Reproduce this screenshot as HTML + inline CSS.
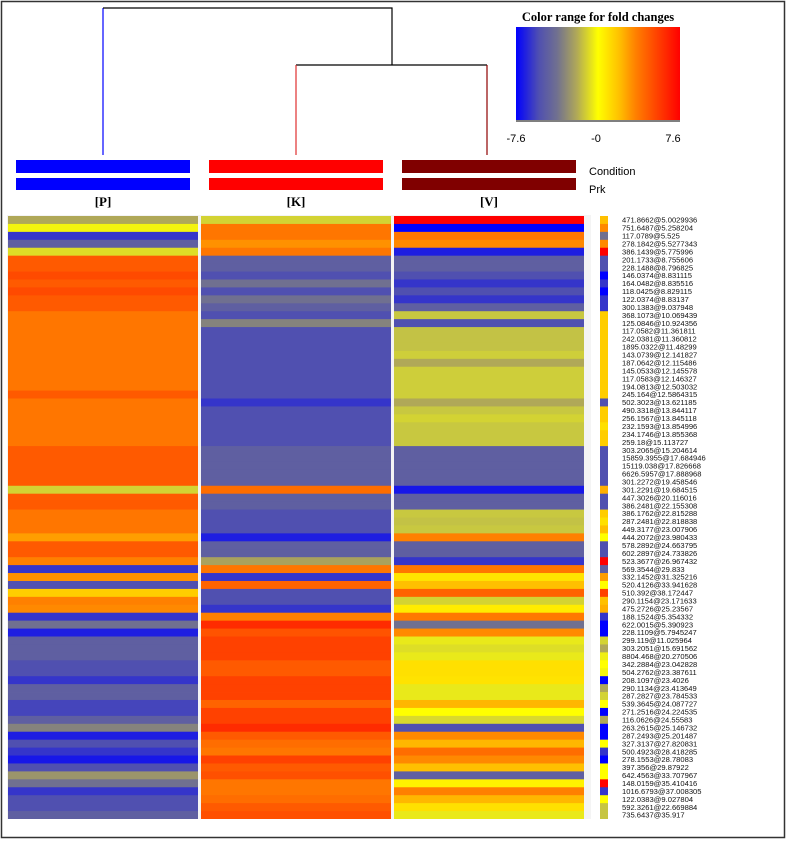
<!DOCTYPE html>
<html><head><meta charset="utf-8"><style>
body{margin:0;background:#fff;}
svg text{font-family:"Liberation Sans",sans-serif;}
</style></head><body>
<svg id="chart" width="787" height="841" viewBox="0 0 787 841" xmlns="http://www.w3.org/2000/svg">
<defs>
<linearGradient id="lg" x1="0" x2="1" y1="0" y2="0">
<stop offset="0" stop-color="#0000ff"/><stop offset="0.14" stop-color="#5050b0"/><stop offset="0.25" stop-color="#707090"/><stop offset="0.37" stop-color="#b0a858"/><stop offset="0.5" stop-color="#ffff00"/><stop offset="0.63" stop-color="#ffc000"/><stop offset="0.73" stop-color="#ff8000"/><stop offset="0.83" stop-color="#ff5000"/><stop offset="1" stop-color="#ff0000"/>
</linearGradient>
<clipPath id="hc"><rect x="0" y="215" width="787" height="604"/></clipPath>
</defs>
<rect x="1.5" y="1.5" width="783" height="836" fill="none" stroke="#333" stroke-width="1.5"/>
<g fill="none" stroke-width="1.2">
<path d="M103 155 V8" stroke="#0000ff"/>
<path d="M103 8 H392 V65" stroke="#000"/>
<path d="M296 65 H487" stroke="#000"/>
<path d="M296 65 V155" stroke="#e03030"/>
<path d="M487 65 V155" stroke="#900000"/>
</g>
<g>
<text x="598" y="21" text-anchor="middle" font-family="Liberation Serif" font-weight="bold" font-size="12.5" style="font-family:'Liberation Serif',serif">Color range for fold changes</text>
<rect x="516" y="27" width="164" height="93" fill="url(#lg)"/>
<line x1="516" y1="121" x2="680" y2="121" stroke="#555" stroke-width="1.5"/>
<text x="516" y="142" font-size="11" text-anchor="middle">-7.6</text>
<text x="596" y="142" font-size="11" text-anchor="middle">-0</text>
<text x="673" y="142" font-size="11" text-anchor="middle">7.6</text>
</g>
<g id="bars"></g>
<g id="heat" clip-path="url(#hc)"></g>
</svg>
<script>
const groups = ["[P]","[K]","[V]"];
const groupColors = ["#0000ff","#ff0000","#800000"];
const rowLabels = ["471.8662@5.0029936","751.6487@5.258204","117.0789@5.525","278.1842@5.5277343","386.1439@5.775996","201.1733@8.755606","228.1488@8.796825","146.0374@8.831115","164.0482@8.835516","118.0425@8.829115","122.0374@8.83137","300.1383@9.037948","368.1073@10.069439","125.0846@10.924356","117.0582@11.361811","242.0381@11.360812","1895.0322@11.48299","143.0739@12.141827","187.0642@12.115486","145.0533@12.145578","117.0583@12.146327","194.0813@12.503032","245.164@12.5864315","502.3023@13.621185","490.3318@13.844117","256.1567@13.845118","232.1593@13.854996","234.1746@13.855368","259.18@15.113727","303.2065@15.204614","15859.3955@17.684946","15119.038@17.826668","6626.5957@17.888968","301.2272@19.458546","301.2291@19.684515","447.3026@20.116016","386.2481@22.155308","386.1762@22.815288","287.2481@22.818838","449.3177@23.007906","444.2072@23.980433","578.2892@24.663795","602.2897@24.733826","523.3677@26.967432","569.3544@29.833","332.1452@31.325216","520.4126@33.941628","510.392@38.172447","290.1154@23.171633","475.2726@25.23567","188.1524@5.354332","622.0015@5.390923","228.1109@5.7945247","299.119@11.025964","303.2051@15.691562","8804.468@20.270506","342.2884@23.042828","504.2762@23.387611","208.1097@23.4026","290.1134@23.413649","287.2827@23.784533","539.3645@24.087727","271.2516@24.224535","116.0626@24.55583","263.2615@25.146732","287.2493@25.201487","327.3137@27.820831","500.4923@28.418285","278.1553@28.78083","397.356@29.87922","642.4563@33.707967","148.0159@35.410416","1016.6793@37.008305","122.0383@9.027804","592.3261@22.669884","735.6437@35.917"];
const valuesP = [-2,-0.2,-6.2,-4.7,-0.6,4.7,4.7,5.2,4.7,5.2,4.7,4.7,3.8,3.8,3.8,3.8,3.8,3.8,3.8,3.8,3.8,3.8,4.7,3.8,3.8,3.8,3.8,3.8,3.8,4.7,4.7,4.7,4.7,4.7,-0.8,4.7,4.7,3.8,3.8,3.8,2.8,4.7,4.7,3.5,-6.2,3.1,-5.5,1.6,3.5,3.3,-6.2,-3.8,-6.8,-4.7,-4.7,-4.7,-5.5,-5.5,-6.2,-4.7,-4.7,-5.8,-5.8,-4.7,-3.2,-6.8,-5.5,-6.2,-7,-5.5,-2.6,-3.8,-6.2,-5.5,-5.5,-4.7];
const valuesK = [-0.8,3.8,3.8,3.1,3.8,-4.7,-4.7,-5.5,-3.8,-5.5,-3.8,-4.7,-5.5,-3.2,-5.5,-5.5,-5.5,-5.5,-5.5,-5.5,-5.5,-5.5,-5.5,-6.2,-5.5,-5.5,-5.5,-5.5,-5.5,-4.7,-4.7,-4.7,-4.7,-4.7,4.1,-4.7,-4.7,-5.5,-5.5,-5.5,-6.8,-4.7,-4.7,-2.2,3.8,-6.2,4.4,-5.5,-5.5,-6.2,3.5,6.2,4.9,5.5,5.5,5.5,4.7,4.7,5.5,5.5,5.5,4.4,5.5,5.5,6.2,4.7,4.1,3.8,5.5,4.7,5,3.8,3.8,4.1,4.7,5];
const valuesV = [7.6,-7.6,3.8,3.3,-6.8,-4.7,-4.7,-5.5,-6.2,-5.5,-6.2,-4.7,-1,-5.5,-1.2,-1.2,-1.2,-0.9,-2,-0.9,-0.9,-0.9,-0.9,-2,-1,-0.8,-1,-1,-1,-4.7,-4.7,-4.7,-4.7,-4.7,-7,-4.7,-4.7,-1,-1.2,-1,3.5,-4.7,-4.7,-6.2,3.8,0.9,2,4.4,-0.8,0.6,3.7,-3.8,3.3,-0.4,-0.6,-0.4,1,1,0.9,-0.4,-0.4,2.2,0,-0.7,-5.5,3.3,2.2,4.1,3.3,2,-4.7,0.4,3.5,2.2,1,-0.4];
const valuesSide = [2,3.3,-3.8,3.3,7.6,-5.5,-5.5,-7.6,-6.2,-7.6,-6.2,-6.2,1.6,1.6,1.6,1.6,1.6,1.6,1.6,1.6,1.6,1.6,1.6,-5.5,1.6,1.6,1,1.6,1.6,-5.5,-5.5,-5.5,-5.5,-5.5,2.4,-5.5,-5.5,1.6,1,2,0,-5.5,-5.5,7.6,-4.7,2.8,0,5.5,2,2.4,-6.2,-7.6,-7.6,-0.8,-2,-0.3,0,-0.2,-7.6,-2,-0.8,0,-7.6,-2,-7.6,-7.6,0,-6.2,-7.6,0,0,7.6,-6.2,0,-1.1,-1.1];

const NS="http://www.w3.org/2000/svg";
const stops=[[-7.6,[0,0,255]],[-5.5,[80,80,176]],[-3.8,[112,112,144]],[-2,[176,168,88]],[-1,[200,200,64]],[0,[255,255,0]],[2,[255,192,0]],[3.5,[255,128,0]],[5,[255,80,0]],[7.6,[255,0,0]]];
function colorScale(v){
  v=Math.max(-7.6,Math.min(7.6,v));
  for(let i=1;i<stops.length;i++){
    if(v<=stops[i][0]){const a=stops[i-1],b=stops[i];const t=(v-a[0])/(b[0]-a[0]);
      const c=a[1].map((x,k)=>Math.round(x+(b[1][k]-x)*t));return `rgb(${c[0]},${c[1]},${c[2]})`;}
  }
  return "rgb(255,0,0)";
}
const top0=216, rowH=603/rowLabels.length;
function yPos(i){return top0+i*rowH;}
const colX=[8,201,394], colW=[190,190,190];
const cols=[valuesP,valuesK,valuesV];
const bars=document.getElementById('bars'), heat=document.getElementById('heat');
function mk(tag,attrs,parent){const e=document.createElementNS(NS,tag);for(const k in attrs)e.setAttribute(k,attrs[k]);parent.appendChild(e);return e;}
groups.forEach((g,gi)=>{
  const bx=colX[gi]+8;
  const b1=mk('rect',{x:bx,y:160,width:174,height:13,fill:groupColors[gi]},bars);
  
  
  const b2=mk('rect',{x:bx,y:178,width:174,height:12,fill:groupColors[gi]},bars);
  
  
  const t=mk('text',{x:bx+87,y:206,'text-anchor':'middle','font-size':13,'font-weight':'bold',style:"font-family:'Liberation Serif',serif"},bars);
  t.textContent=g;
  
  
});
const c1=mk('text',{x:589,y:175,'font-size':11},bars);c1.textContent='Condition';


const c2=mk('text',{x:589,y:193,'font-size':11},bars);c2.textContent='Prk';


mk('rect',{x:7,y:214,width:584,height:606,fill:'#f4f4f4'},heat);
cols.forEach((arr,ci)=>{
  arr.forEach((v,i)=>{
    const r=mk('rect',{x:colX[ci],y:yPos(i),width:colW[ci],height:rowH+0.4,fill:colorScale(v)},heat);
    
    
  });
});
valuesSide.forEach((v,i)=>{
  const r=mk('rect',{x:600,y:yPos(i),width:8,height:rowH+0.4,fill:colorScale(v)},heat);
  
  
});
rowLabels.forEach((l,i)=>{
  const t=mk('text',{x:622,y:yPos(i)+rowH/2+2.7,'font-size':7.6,fill:'#111'},heat);
  t.textContent=l;
  
  
});
</script>
</body></html>
